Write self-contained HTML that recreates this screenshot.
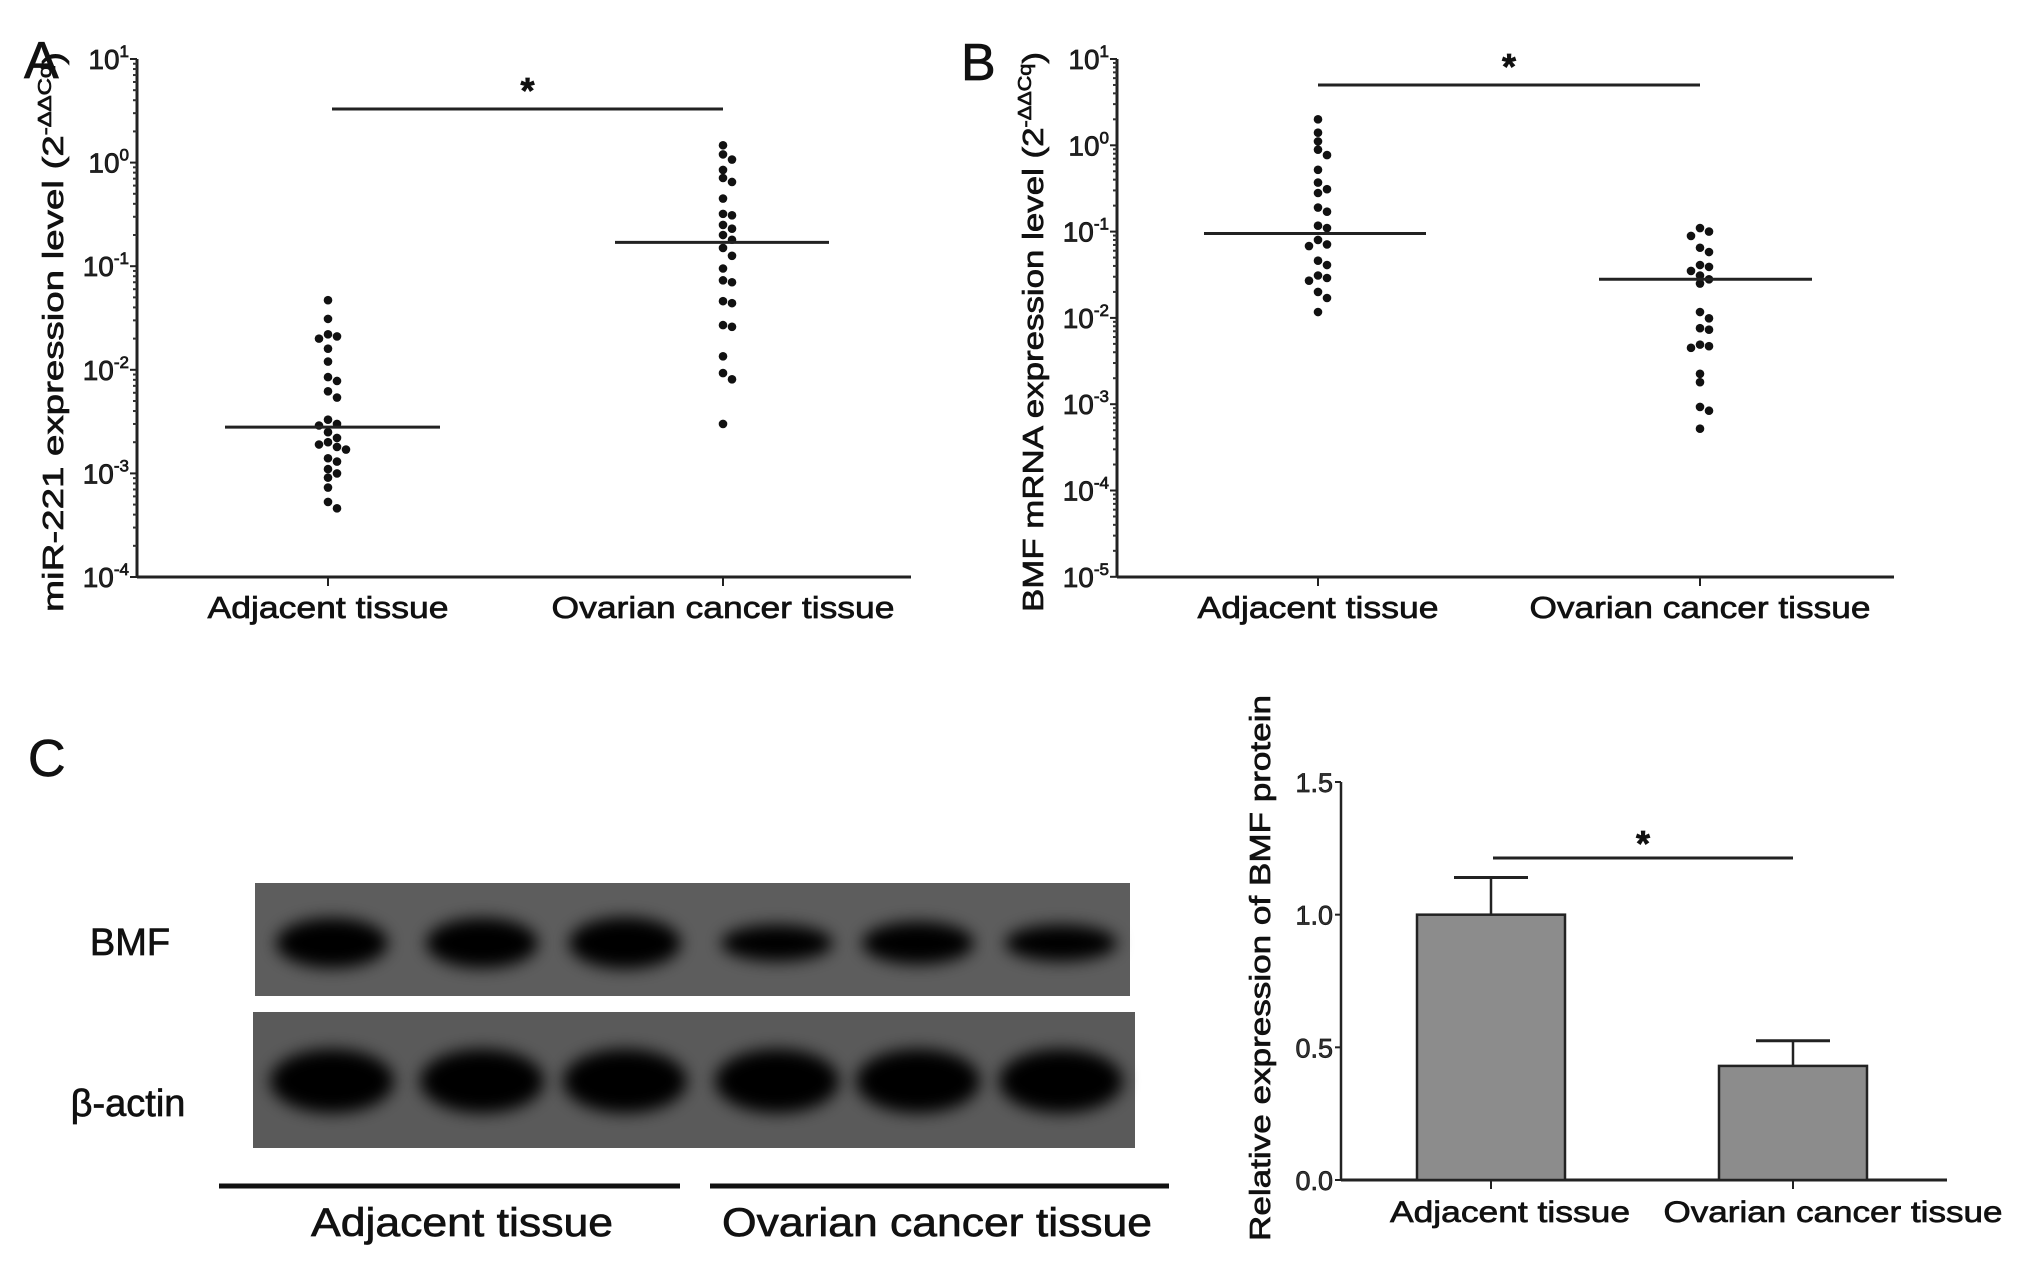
<!DOCTYPE html>
<html><head><meta charset="utf-8"><style>
html,body{margin:0;padding:0;background:#fff;}
svg{display:block;font-family:"Liberation Sans",Arial,sans-serif;}
text{stroke:#111;stroke-width:0.7px;}
</style></head><body>
<svg id="fig" width="2031" height="1278" viewBox="0 0 2031 1278" xmlns="http://www.w3.org/2000/svg">
<defs>
<filter id="blur" x="-50%" y="-100%" width="200%" height="300%"><feGaussianBlur stdDeviation="8"/></filter>
</defs>
<g id="pa"></g>
<g id="pb"></g>
<g id="pc"></g>
</svg>
<script>
// ---- Panel A data ----
const catsA = ["Adjacent tissue", "Ovarian cancer tissue"];
const adjA = [0.047,0.031,0.022,0.021,0.020,0.016,0.012,0.0085,0.0078,0.0062,0.0054,0.0033,0.003,0.0029,0.0025,0.0022,0.002,0.0019,0.0018,0.0017,0.0014,0.0013,0.0011,0.001,0.00091,0.00073,0.00053,0.00046];
const ovaA = [1.47,1.2,1.07,0.85,0.71,0.65,0.45,0.32,0.31,0.25,0.23,0.2,0.18,0.15,0.126,0.095,0.073,0.07,0.046,0.044,0.027,0.026,0.0135,0.0093,0.0081,0.003];
const medA = [0.0028, 0.17];
const ticksA = [1, 0, -1, -2, -3, -4];
// ---- Panel B data ----
const catsB = ["Adjacent tissue", "Ovarian cancer tissue"];
const adjB = [2.0,1.4,1.11,0.89,0.77,0.52,0.37,0.31,0.28,0.19,0.17,0.117,0.11,0.08,0.071,0.068,0.046,0.041,0.031,0.029,0.027,0.02,0.017,0.0117];
const ovaB = [0.11,0.1,0.089,0.065,0.058,0.041,0.039,0.035,0.031,0.028,0.025,0.0117,0.0099,0.0076,0.0073,0.0049,0.0047,0.0045,0.00225,0.0018,0.00093,0.00084,0.00052];
const medB = [0.095, 0.028];
const ticksB = [1, 0, -1, -2, -3, -4, -5];
// ---- Panel C data ----
const catsC = ["Adjacent tissue", "Ovarian cancer tissue"];
const barC = [1.0, 0.43];
const errC = [0.14, 0.095];
const ticksC = ["0.0", "0.5", "1.0", "1.5"];
const bmfBand = [1.0, 1.0, 1.05, 0.55, 0.75, 0.55];
const actinBand = [1.0, 1.0, 1.0, 1.0, 1.0, 1.0];

const NS = "http://www.w3.org/2000/svg";
function mk(tag, attrs, parent, txt) {
  const e = document.createElementNS(NS, tag);
  for (const k in attrs) e.setAttribute(k, attrs[k]);
  if (txt !== undefined) e.textContent = txt;
  parent.appendChild(e);
  return e;
}

function scatterPanel(g, o) {
  const yOf = v => o.y0 + (o.topExp - Math.log10(v)) * o.dec;
  const ax = mk("line", {x1:o.ax, y1:o.y0, x2:o.ax, y2:o.yBot, stroke:"#222", "stroke-width":3}, g);
  
  
  const xa = mk("line", {x1:o.ax, y1:o.yBot, x2:o.axEnd, y2:o.yBot, stroke:"#222", "stroke-width":3}, g);
  
  
  o.ticks.forEach(t => {
    const y = yOf(Math.pow(10, t));
    mk("line", {x1:o.ax-7, y1:y, x2:o.ax, y2:y, stroke:"#222", "stroke-width":2}, g);
    const tx = mk("text", {x:o.ax-8, y:y+10, "text-anchor":"end", "font-size":28, fill:"#222"}, g);
    
    
    mk("tspan", {}, tx, "10");
    mk("tspan", {dy:-12, "font-size":17}, tx, String(t));
    if (t > o.ticks[o.ticks.length-1]) {
      for (let m = 2; m <= 9; m++) {
        const ym = yOf(Math.pow(10, t - 1) * m);
        mk("line", {x1:o.ax-4, y1:ym, x2:o.ax, y2:ym, stroke:"#333", "stroke-width":2}, g);
      }
    }
  });
  o.cats.forEach((c, i) => {
    mk("line", {x1:o.cx[i], y1:o.yBot, x2:o.cx[i], y2:o.yBot+9, stroke:"#222", "stroke-width":2}, g);
    const t = mk("text", {x:o.cx[i], y:o.yBot+41, "text-anchor":"middle", "font-size":31, fill:"#111", textLength:o.labW[i], lengthAdjust:"spacingAndGlyphs"}, g, c);
    
    
  });
  [o.d0, o.d1].forEach((arr, i) => {
    const placed = [];
    arr.forEach(v => {
      const y = yOf(v);
      let off = 0, k = 0;
      const cand = [0, 9, -9, 18, -18, 27, -27];
      for (k = 0; k < cand.length; k++) {
        off = cand[k];
        if (!placed.some(p => Math.abs(p[1]-y) < 8 && Math.abs(p[0]-off) < 8)) break;
      }
      placed.push([off, y]);
      const c = mk("circle", {cx:o.cx[i]+off, cy:y, r:4.3, fill:"#111"}, g);
      
      
    });
    const my = yOf(o.med[i]);
    const ml = mk("line", {x1:o.medX[i][0], y1:my, x2:o.medX[i][1], y2:my, stroke:"#222", "stroke-width":3}, g);
    
    
  });
  const sb = mk("line", {x1:o.sig[0], y1:o.sig[2], x2:o.sig[1], y2:o.sig[2], stroke:"#222", "stroke-width":3}, g);
  
  
  const st = mk("text", {x:(o.sig[0]+o.sig[1])/2, y:o.sig[2]-6, "text-anchor":"middle", "font-size":36, "font-weight":"bold", fill:"#111"}, g, "*");
  
  
  const yt = mk("text", {x:0, y:0, transform:`translate(${o.titleX},${o.titleY}) rotate(-90)`, "text-anchor":"middle", "font-size":29, fill:"#111", textLength:o.titleL, lengthAdjust:"spacingAndGlyphs"}, g);
  
  
  mk("tspan", {}, yt, o.title + " (2");
  mk("tspan", {dy:-12, "font-size":18}, yt, "-ΔΔCq");
  mk("tspan", {dy:12}, yt, ")");
  const pl = mk("text", {x:o.letter[0], y:o.letter[1], "font-size":52, fill:"#111", "stroke-width":1.5}, g, o.letter[2]);
  
  
}

scatterPanel(document.getElementById("pa"), {
  ax:137, axEnd:911, y0:59, yBot:577, topExp:1, dec:103.6, ticks:ticksA,
  cats:catsA, cx:[328,723], labW:[241,343], d0:adjA, d1:ovaA, med:medA,
  medX:[[225,440],[615,829]], sig:[332,723,109],
  title:"miR-221 expression level", titleX:63, titleY:332, titleL:560,
  letter:[24,78,"A"]
});
scatterPanel(document.getElementById("pb"), {
  ax:1117, axEnd:1894, y0:59, yBot:577, topExp:1, dec:86.3, ticks:ticksB,
  cats:catsB, cx:[1318,1700], labW:[241,341], d0:adjB, d1:ovaB, med:medB,
  medX:[[1204,1426],[1599,1812]], sig:[1318,1700,85],
  title:"BMF mRNA expression level", titleX:1043, titleY:332, titleL:560,
  letter:[961,80,"B"]
});

// ---- Panel C ----
(function(){
  const g = document.getElementById("pc");
  const pl = mk("text", {x:28, y:776, "font-size":52, fill:"#111", "stroke-width":1.5}, g, "C");
  
  
  const lanes = [332, 482, 625, 777, 918, 1061];
  const b1 = mk("rect", {x:255, y:883, width:875, height:113, fill:"#5d5d5d"}, g);
  
  
  const b2 = mk("rect", {x:253, y:1012, width:882, height:136, fill:"#5a5a5a"}, g);
  
  
  lanes.forEach((x, i) => {
    const e = mk("ellipse", {cx:x, cy:943, rx:56, ry:10 + 15*bmfBand[i], fill:"#000", filter:"url(#blur)"}, g);
    
    
    const a = mk("ellipse", {cx:x, cy:1081, rx:62, ry:32*actinBand[i], fill:"#000", filter:"url(#blur)"}, g);
    
    
  });
  const l1 = mk("text", {x:130, y:955, "text-anchor":"middle", "font-size":38, fill:"#111"}, g, "BMF");
  
  
  const l2 = mk("text", {x:128, y:1116, "text-anchor":"middle", "font-size":38, fill:"#111"}, g, "β-actin");
  
  
  [[219,680,462,302,catsC[0]],[710,1169,937,430,catsC[1]]].forEach(s => {
    const ln = mk("line", {x1:s[0], y1:1186, x2:s[1], y2:1186, stroke:"#111", "stroke-width":5}, g);
    
    
    const t = mk("text", {x:s[2], y:1236, "text-anchor":"middle", "font-size":40, fill:"#111", textLength:s[3], lengthAdjust:"spacingAndGlyphs"}, g, s[4]);
    
    
  });
  // bar chart
  const ax = 1341, y0 = 1180, yTop = 782, vmax = 1.5;
  const yOf = v => y0 - v / vmax * (y0 - yTop);
  const ya = mk("line", {x1:ax, y1:yTop, x2:ax, y2:y0, stroke:"#222", "stroke-width":2.5}, g);
  
  
  const xa = mk("line", {x1:ax, y1:y0, x2:1947, y2:y0, stroke:"#222", "stroke-width":3}, g);
  
  
  ticksC.forEach(t => {
    const y = yOf(parseFloat(t));
    mk("line", {x1:ax-6, y1:y, x2:ax, y2:y, stroke:"#222", "stroke-width":2}, g);
    const tx = mk("text", {x:ax-8, y:y+10, "text-anchor":"end", "font-size":27, fill:"#333", stroke:"#333", "stroke-width":0.4}, g, t);
    
    
  });
  const bx = [1491, 1793], bw = 148, lw = [240, 339];
  catsC.forEach((c, i) => {
    const yt = yOf(barC[i]);
    const r = mk("rect", {x:bx[i]-bw/2, y:yt, width:bw, height:y0-yt, fill:"#8c8c8c", stroke:"#222", "stroke-width":2.5}, g);
    
    
    const ye = yOf(barC[i] + errC[i]);
    const e = mk("line", {x1:bx[i], y1:yt, x2:bx[i], y2:ye, stroke:"#222", "stroke-width":2.5}, g);
    
    
    mk("line", {x1:bx[i]-37, y1:ye, x2:bx[i]+37, y2:ye, stroke:"#222", "stroke-width":3}, g);
    mk("line", {x1:bx[i], y1:y0, x2:bx[i], y2:y0+9, stroke:"#222", "stroke-width":2}, g);
    const t = mk("text", {x:[1510,1833][i], y:1222, "text-anchor":"middle", "font-size":30, fill:"#111", textLength:lw[i], lengthAdjust:"spacingAndGlyphs"}, g, c);
    
    
  });
  const sb = mk("line", {x1:1493, y1:858, x2:1793, y2:858, stroke:"#222", "stroke-width":3}, g);
  
  
  const st = mk("text", {x:1643, y:856, "text-anchor":"middle", "font-size":36, "font-weight":"bold", fill:"#111"}, g, "*");
  
  
  const yt = mk("text", {x:0, y:0, transform:"translate(1270,968) rotate(-90)", "text-anchor":"middle", "font-size":29, fill:"#111", textLength:546, lengthAdjust:"spacingAndGlyphs"}, g, "Relative expression of BMF protein");
  
  
})();
</script>
</body></html>
